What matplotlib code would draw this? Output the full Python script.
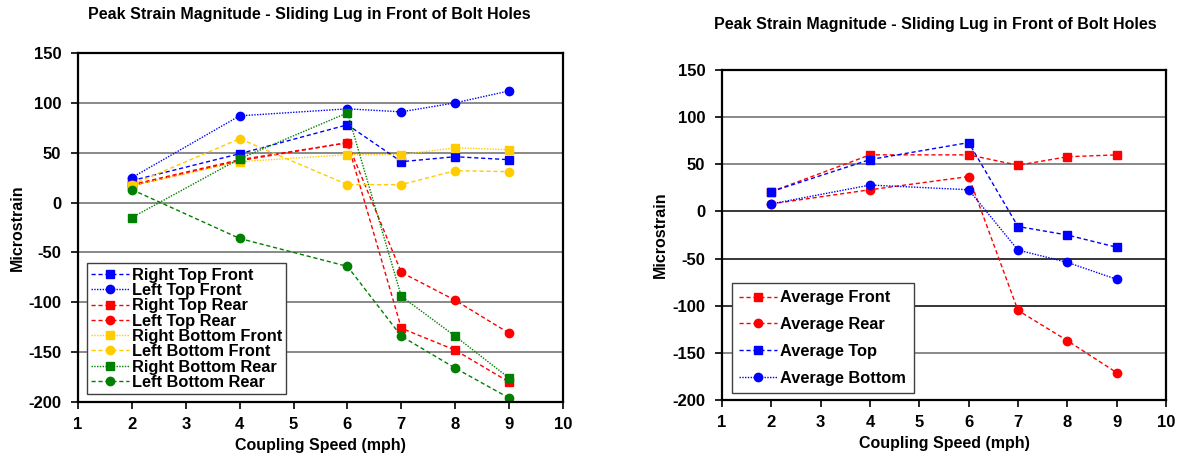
import matplotlib
matplotlib.use("Agg")
import matplotlib.pyplot as plt

plt.rcParams['font.family'] = ['Liberation Sans', 'DejaVu Sans']
plt.rcParams['font.weight'] = 'bold'
plt.rcParams['axes.unicode_minus'] = False

speeds = [2, 4, 6, 7, 8, 9]

# Left chart series
right_top_front = [22, 49, 78, 41, 46, 43]
left_top_front = [25, 87, 94, 91, 100, 112]
right_top_rear = [18, 43, 60, -126, -148, -180]
left_top_rear = [17, 42, 60, -70, -98, -131]
right_bottom_front = [17, 41, 48, 48, 55, 53]
left_bottom_front = [18, 64, 18, 18, 32, 31]
right_bottom_rear = [-15, 44, 90, -94, -134, -176]
left_bottom_rear = [13, -36, -64, -134, -166, -196]

# Right chart series
avg_front = [21, 60, 60, 49, 58, 60]
avg_rear = [8, 23, 37, -105, -137, -171]
avg_top = [21, 55, 73, -16, -25, -38]
avg_bottom = [8, 28, 23, -41, -54, -72]

title = "Peak Strain Magnitude - Sliding Lug in Front of Bolt Holes"
xticks = list(range(1, 11))
yticks = list(range(-200, 151, 50))

BLUE, RED, YEL, GRN = '#0000FF', '#FF0000', '#FFCC00', '#008000'
DASH = (0, (3, 2))
DOT = (0, (1, 1))

fig = plt.figure(figsize=(11.83, 4.66), dpi=100)
W, H = 1183, 466


def make_ax(l, r, t, b):
    return fig.add_axes([l / W, (H - b) / H, (r - l) / W, (b - t) / H])


def style(ax, ylab_x, dark_grid=()):
    ax.set_xlim(1, 10)
    ax.set_ylim(-200, 150)
    ax.set_xticks(xticks)
    ax.set_yticks(yticks)
    ax.tick_params(direction='out', length=5, width=1.2, labelsize=12)
    ax.tick_params(axis='y', pad=7)
    ax.tick_params(axis='x', pad=6)
    for lab in ax.get_xticklabels() + ax.get_yticklabels():
        lab.set_fontweight('bold')
    for s in ax.spines.values():
        s.set_linewidth(1.6)
        s.set_color('black')
    ax.grid(axis='y', color='#808080', linewidth=1.3)
    ax.set_axisbelow(True)
    for val, gl in zip(yticks, ax.get_ygridlines()):
        if val in dark_grid:
            gl.set_color('black')
            gl.set_linewidth(1.1)
    ax.set_xlabel("Coupling Speed (mph)", fontsize=11.5, fontweight='bold', labelpad=4)
    ax.set_ylabel("Microstrain", fontsize=11.5, fontweight='bold')
    ax.yaxis.set_label_coords(ylab_x, 0.5)


# Left chart
ax1 = make_ax(78, 563, 53, 402)
series1 = [
    ("Right Top Front", right_top_front, BLUE, 's', DASH),
    ("Left Top Front", left_top_front, BLUE, 'o', DOT),
    ("Right Top Rear", right_top_rear, RED, 's', DASH),
    ("Left Top Rear", left_top_rear, RED, 'o', DASH),
    ("Right Bottom Front", right_bottom_front, YEL, 's', DOT),
    ("Left Bottom Front", left_bottom_front, YEL, 'o', DASH),
    ("Right Bottom Rear", right_bottom_rear, GRN, 's', DOT),
    ("Left Bottom Rear", left_bottom_rear, GRN, 'o', DASH),
]
for name, vals, c, m, ls in series1:
    ax1.plot(speeds, vals, color=c, marker=m, markersize=6, linestyle=ls,
             linewidth=1.0, label=name)
style(ax1, (25 - 78) / 485)
fig.text(309 / W, 1 - 15 / H, title, fontsize=11.5, fontweight='bold',
         ha='center', va='center')
leg1 = ax1.legend(loc='lower left', bbox_to_anchor=(0.018, 0.023), borderaxespad=0,
                  labelspacing=0.02, handlelength=2.3, handletextpad=0.2,
                  borderpad=0.25, fancybox=False, framealpha=1, edgecolor='#404040',
                  prop={'weight': 'bold', 'size': 11.8})
leg1.get_frame().set_linewidth(1.0)

# Right chart
ax2 = make_ax(722, 1166, 70, 400)
series2 = [
    ("Average Front", avg_front, RED, 's', DASH),
    ("Average Rear", avg_rear, RED, 'o', DASH),
    ("Average Top", avg_top, BLUE, 's', DASH),
    ("Average Bottom", avg_bottom, BLUE, 'o', DOT),
]
for name, vals, c, m, ls in series2:
    ax2.plot(speeds, vals, color=c, marker=m, markersize=6, linestyle=ls,
             linewidth=1.0, label=name)
style(ax2, (668 - 722) / 444, dark_grid=(0, -50, -100))
fig.text(935 / W, 1 - 24 / H, title, fontsize=11.5, fontweight='bold',
         ha='center', va='center')
leg2 = ax2.legend(loc='lower left', bbox_to_anchor=(0.0225, 0.021), borderaxespad=0,
                  labelspacing=0.72, handlelength=2.3, handletextpad=0.2,
                  borderpad=0.45, fancybox=False, framealpha=1, edgecolor='#404040',
                  prop={'weight': 'bold', 'size': 11.8})
leg2.get_frame().set_linewidth(1.0)

fig.savefig("out.png", dpi=100)
